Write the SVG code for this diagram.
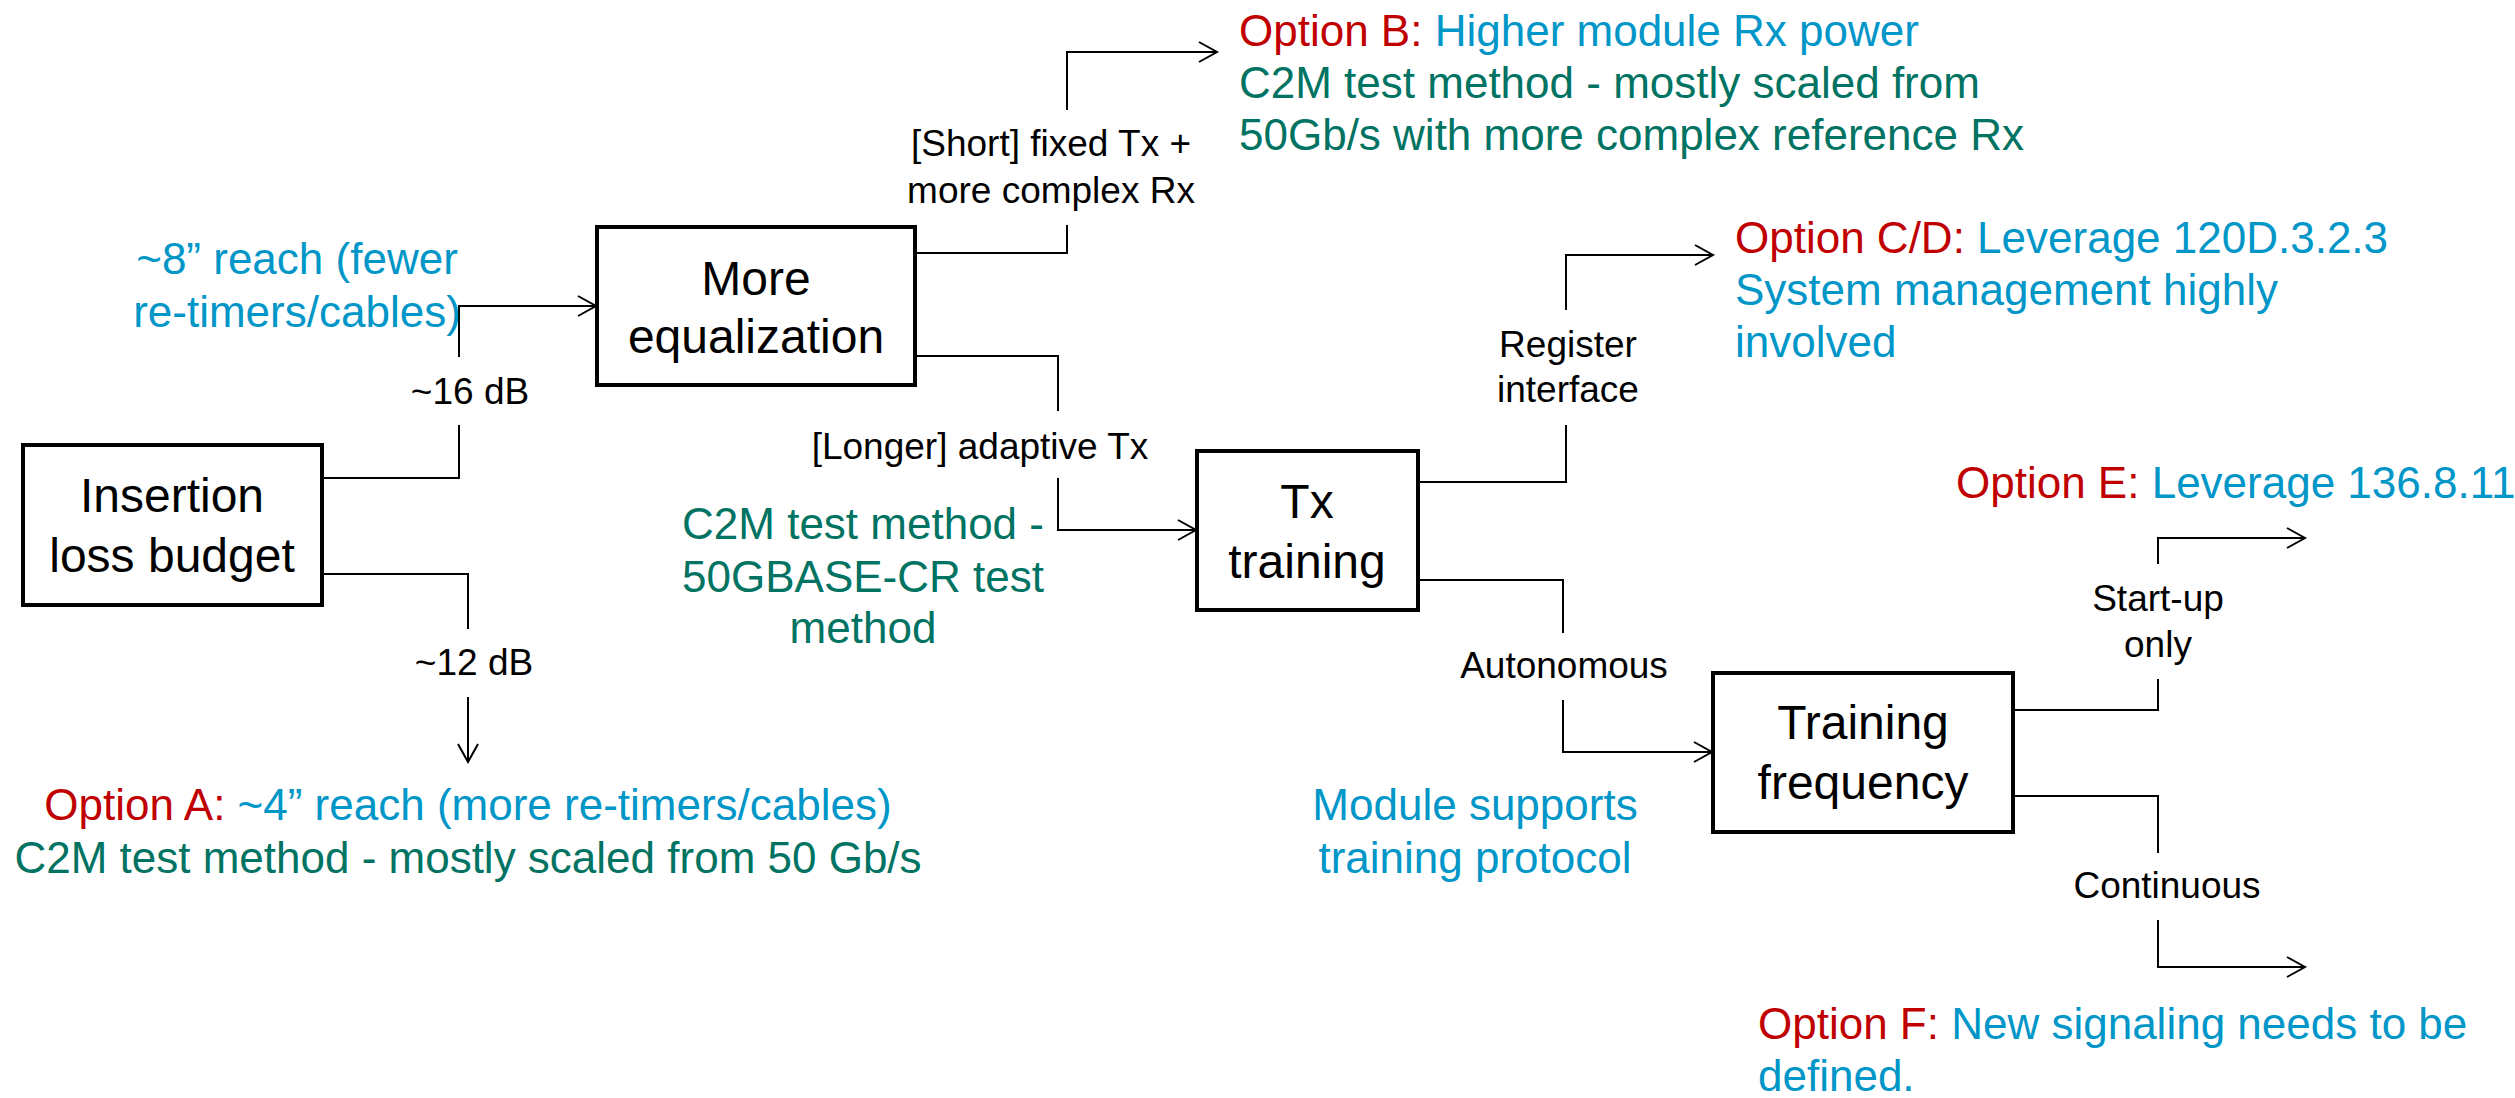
<svg xmlns="http://www.w3.org/2000/svg" width="2515" height="1098" viewBox="0 0 2515 1098">
<style>
.box{fill:#fff;stroke:#000;stroke-width:4}
.bt{font-family:"Liberation Sans",Arial,sans-serif;font-size:48px;text-anchor:middle;fill:#000}
.lb{font-family:"Liberation Sans",Arial,sans-serif;font-size:37px;text-anchor:middle;fill:#000}
.tx{font-family:"Liberation Sans",Arial,sans-serif;font-size:44px}
.mid{text-anchor:middle}
.red{fill:#C00000}
.blue{fill:#0096C8}
.green{fill:#007362}
.conn{fill:none;stroke:#000;stroke-width:2}
</style>
<defs>
<marker id="arr" markerUnits="userSpaceOnUse" markerWidth="24" markerHeight="26" refX="20" refY="12" orient="auto" overflow="visible">
<path d="M2,2 L20,12 L2,22" fill="none" stroke="#000" stroke-width="2"/>
</marker>
</defs>
<rect width="2515" height="1098" fill="#fff"/>

<g id="connectors">
<path class="conn" d="M322,478 H459 V425"/>
<path class="conn" d="M459,357 V306 H596" marker-end="url(#arr)"/>
<path class="conn" d="M322,574 H468 V629"/>
<path class="conn" d="M468,697 V762" marker-end="url(#arr)"/>
<path class="conn" d="M915,253 H1067 V225"/>
<path class="conn" d="M1067,110 V52 H1217" marker-end="url(#arr)"/>
<path class="conn" d="M915,356 H1058 V411"/>
<path class="conn" d="M1058,478 V530 H1196" marker-end="url(#arr)"/>
<path class="conn" d="M1418,482 H1566 V425"/>
<path class="conn" d="M1566,310 V255 H1713" marker-end="url(#arr)"/>
<path class="conn" d="M1418,580 H1563 V633"/>
<path class="conn" d="M1563,700 V752 H1712" marker-end="url(#arr)"/>
<path class="conn" d="M2013,710 H2158 V679"/>
<path class="conn" d="M2158,564 V538 H2305" marker-end="url(#arr)"/>
<path class="conn" d="M2013,796 H2158 V853"/>
<path class="conn" d="M2158,920 V967 H2305" marker-end="url(#arr)"/>
<text class="lb" x="470" y="404">~16 dB</text>
<text class="lb" x="474" y="675">~12 dB</text>
<text class="lb" x="1051" y="156">[Short] fixed Tx +</text>
<text class="lb" x="1051" y="203">more complex Rx</text>
<text class="lb" x="980" y="459">[Longer] adaptive Tx</text>
<text class="lb" x="1568" y="357">Register</text>
<text class="lb" x="1568" y="402">interface</text>
<text class="lb" x="1564" y="678">Autonomous</text>
<text class="lb" x="2158" y="611">Start-up</text>
<text class="lb" x="2158" y="657">only</text>
<text class="lb" x="2167" y="898">Continuous</text>
</g>

<g id="node-insertion-loss-budget">
<rect class="box" x="23" y="445" width="299" height="160"/>
<text class="bt" x="172" y="512">Insertion</text>
<text class="bt" x="172" y="572">loss budget</text>
</g>

<g id="node-more-equalization">
<rect class="box" x="597" y="227" width="318" height="158"/>
<text class="bt" x="756" y="295">More</text>
<text class="bt" x="756" y="353">equalization</text>
</g>

<g id="node-tx-training">
<rect class="box" x="1197" y="451" width="221" height="159"/>
<text class="bt" x="1307" y="518">Tx</text>
<text class="bt" x="1307" y="578">training</text>
</g>

<g id="node-training-frequency">
<rect class="box" x="1713" y="673" width="300" height="159"/>
<text class="bt" x="1863" y="739">Training</text>
<text class="bt" x="1863" y="799">frequency</text>
</g>

<g id="note-8in">
<text class="tx mid blue" x="297" y="274">~8” reach (fewer</text>
<text class="tx mid blue" x="297" y="327">re-timers/cables)</text>
</g>

<g id="option-a">
<text class="tx mid" x="468" y="820"><tspan class="red">Option A: </tspan><tspan class="blue">~4” reach (more re-timers/cables)</tspan></text>
<text class="tx mid green" x="468" y="873">C2M test method - mostly scaled from 50 Gb/s</text>
</g>

<g id="option-b">
<text class="tx" x="1239" y="46"><tspan class="red">Option B: </tspan><tspan class="blue">Higher module Rx power</tspan></text>
<text class="tx green" x="1239" y="98">C2M test method - mostly scaled from</text>
<text class="tx green" x="1239" y="150">50Gb/s with more complex reference Rx</text>
</g>

<g id="note-c2m-cr">
<text class="tx mid green" x="863" y="539">C2M test method -</text>
<text class="tx mid green" x="863" y="592">50GBASE-CR test</text>
<text class="tx mid green" x="863" y="643">method</text>
</g>

<g id="option-cd">
<text class="tx" x="1735" y="253"><tspan class="red">Option C/D: </tspan><tspan class="blue">Leverage 120D.3.2.3</tspan></text>
<text class="tx blue" x="1735" y="305">System management highly</text>
<text class="tx blue" x="1735" y="357">involved</text>
</g>

<g id="note-module">
<text class="tx mid blue" x="1475" y="820">Module supports</text>
<text class="tx mid blue" x="1475" y="873">training protocol</text>
</g>

<g id="option-e">
<text class="tx" x="1956" y="498"><tspan class="red">Option E: </tspan><tspan class="blue">Leverage 136.8.11</tspan></text>
</g>

<g id="option-f">
<text class="tx" x="1758" y="1039"><tspan class="red">Option F: </tspan><tspan class="blue">New signaling needs to be</tspan></text>
<text class="tx blue" x="1758" y="1091">defined.</text>
</g>
</svg>
